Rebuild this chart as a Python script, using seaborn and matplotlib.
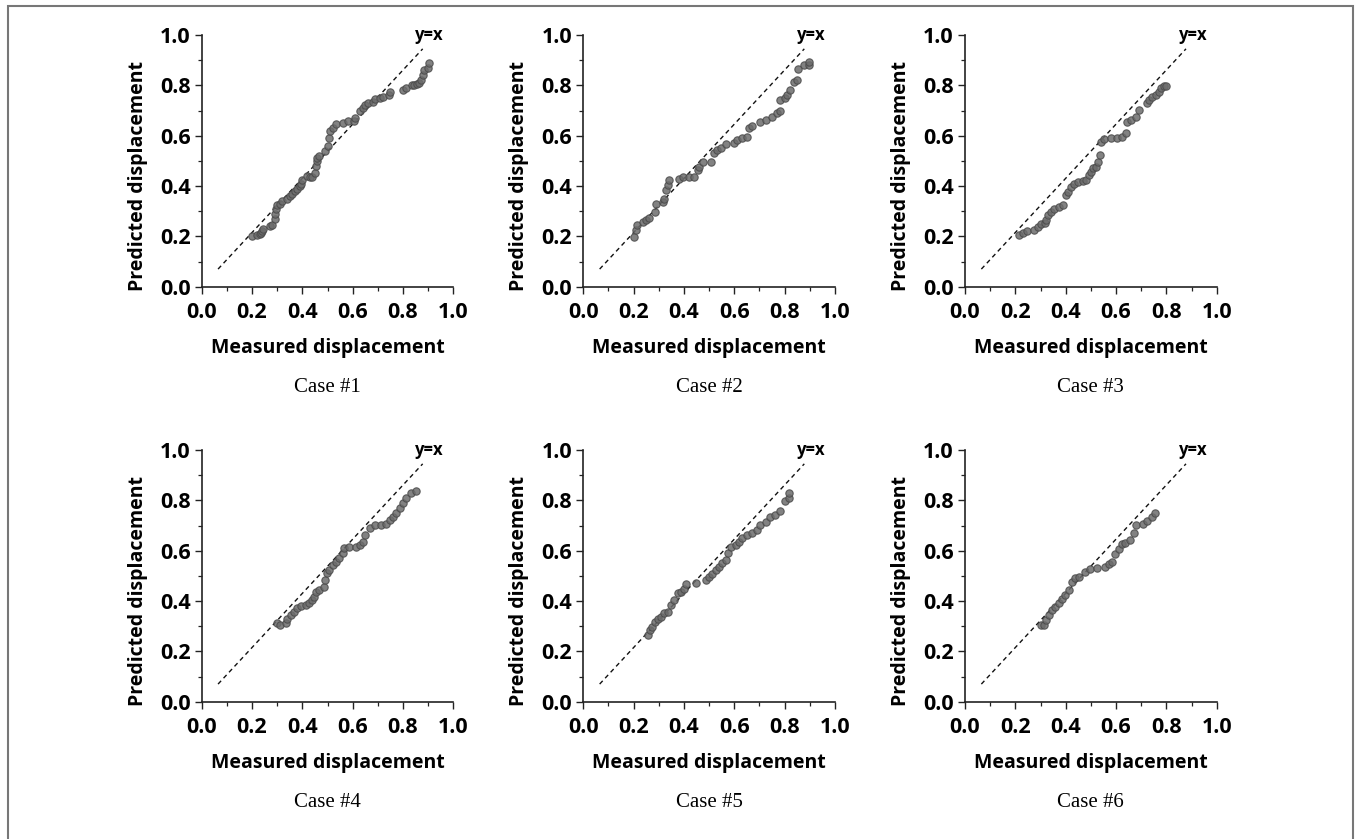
import numpy as np
import pandas as pd
import matplotlib
matplotlib.use("Agg")
import matplotlib.pyplot as plt
import seaborn as sns
from matplotlib.ticker import MultipleLocator
from matplotlib.patches import Rectangle

# ---------------- data ----------------
case_titles = ["Case #1", "Case #2", "Case #3", "Case #4", "Case #5", "Case #6"]
tick_values = [0.0, 0.2, 0.4, 0.6, 0.8, 1.0]
tick_labels = ["0.0", "0.2", "0.4", "0.6", "0.8", "1.0"]

# reference ("y=x") dashed line end points as drawn
ref_x = [0.065, 0.878]
ref_y = [0.070, 0.945]

case1_x = [0.20, 0.22, 0.23, 0.235, 0.24, 0.245, 0.27, 0.28, 0.29, 0.29, 0.295, 0.30,
           0.31, 0.32, 0.34, 0.35, 0.36, 0.37, 0.38, 0.39, 0.395, 0.40, 0.42, 0.43,
           0.44, 0.45, 0.455, 0.46, 0.46, 0.465, 0.49, 0.50, 0.505, 0.51, 0.52, 0.535,
           0.56, 0.58, 0.605, 0.61, 0.63, 0.64, 0.65, 0.66, 0.68, 0.69, 0.71, 0.72,
           0.745, 0.75, 0.80, 0.81, 0.835, 0.845, 0.855, 0.865, 0.87, 0.88, 0.885, 0.90, 0.905]
case1_y = [0.20, 0.205, 0.21, 0.215, 0.22, 0.23, 0.24, 0.245, 0.27, 0.29, 0.31, 0.325,
           0.33, 0.34, 0.35, 0.36, 0.37, 0.38, 0.39, 0.40, 0.41, 0.425, 0.44, 0.435,
           0.435, 0.45, 0.48, 0.50, 0.51, 0.52, 0.54, 0.56, 0.59, 0.62, 0.63, 0.645,
           0.65, 0.66, 0.66, 0.67, 0.70, 0.71, 0.72, 0.73, 0.735, 0.745, 0.75, 0.755,
           0.76, 0.775, 0.78, 0.79, 0.80, 0.80, 0.805, 0.81, 0.82, 0.84, 0.86, 0.87, 0.89]

case2_x = [0.20, 0.208, 0.213, 0.237, 0.25, 0.263, 0.283, 0.287, 0.316, 0.322, 0.329,
           0.336, 0.342, 0.38, 0.395, 0.42, 0.44, 0.454, 0.46, 0.474, 0.507, 0.52,
           0.533, 0.546, 0.566, 0.60, 0.612, 0.632, 0.651, 0.658, 0.671, 0.704, 0.724,
           0.75, 0.77, 0.783, 0.783, 0.80, 0.809, 0.822, 0.836, 0.849, 0.853, 0.875,
           0.895, 0.897]
case2_y = [0.199, 0.225, 0.245, 0.258, 0.265, 0.272, 0.298, 0.33, 0.338, 0.35, 0.384,
           0.404, 0.424, 0.426, 0.437, 0.437, 0.437, 0.464, 0.477, 0.497, 0.497, 0.53,
           0.543, 0.55, 0.567, 0.57, 0.583, 0.589, 0.596, 0.629, 0.638, 0.656, 0.662,
           0.675, 0.689, 0.699, 0.742, 0.748, 0.762, 0.781, 0.815, 0.821, 0.864, 0.881,
           0.881, 0.894]

case3_x = [0.214, 0.23, 0.246, 0.276, 0.29, 0.303, 0.316, 0.322, 0.329, 0.342, 0.355,
           0.375, 0.391, 0.401, 0.408, 0.421, 0.434, 0.447, 0.467, 0.48, 0.493, 0.50,
           0.507, 0.52, 0.53, 0.536, 0.542, 0.553, 0.579, 0.605, 0.625, 0.638, 0.645,
           0.658, 0.678, 0.691, 0.724, 0.73, 0.743, 0.759, 0.77, 0.78, 0.789, 0.80]
case3_y = [0.205, 0.215, 0.223, 0.225, 0.238, 0.249, 0.252, 0.265, 0.285, 0.298, 0.309,
           0.318, 0.325, 0.364, 0.377, 0.397, 0.41, 0.417, 0.421, 0.424, 0.444, 0.457,
           0.47, 0.477, 0.497, 0.523, 0.576, 0.585, 0.589, 0.589, 0.596, 0.609, 0.656,
           0.662, 0.675, 0.702, 0.728, 0.742, 0.752, 0.762, 0.775, 0.788, 0.797, 0.799]

case4_x = [0.30, 0.313, 0.333, 0.34, 0.353, 0.367, 0.38, 0.393, 0.413, 0.427, 0.44,
           0.447, 0.453, 0.467, 0.487, 0.489, 0.496, 0.507, 0.52, 0.533, 0.547, 0.56,
           0.567, 0.587, 0.613, 0.627, 0.64, 0.647, 0.667, 0.687, 0.713, 0.733, 0.747,
           0.76, 0.773, 0.787, 0.80, 0.813, 0.833, 0.853]
case4_y = [0.311, 0.305, 0.311, 0.327, 0.344, 0.358, 0.371, 0.38, 0.384, 0.391, 0.404,
           0.417, 0.437, 0.444, 0.457, 0.483, 0.51, 0.523, 0.543, 0.556, 0.57, 0.589,
           0.609, 0.616, 0.616, 0.623, 0.636, 0.662, 0.689, 0.702, 0.702, 0.705, 0.722,
           0.732, 0.748, 0.768, 0.788, 0.808, 0.828, 0.837]

case5_x = [0.257, 0.266, 0.274, 0.283, 0.296, 0.309, 0.322, 0.336, 0.349, 0.362, 0.375,
           0.388, 0.401, 0.408, 0.447, 0.487, 0.50, 0.513, 0.526, 0.539, 0.553, 0.566,
           0.576, 0.586, 0.605, 0.618, 0.632, 0.651, 0.671, 0.691, 0.704, 0.724, 0.743,
           0.763, 0.783, 0.803, 0.816, 0.818]
case5_y = [0.265, 0.285, 0.298, 0.318, 0.327, 0.338, 0.354, 0.358, 0.384, 0.404, 0.43,
           0.437, 0.446, 0.468, 0.47, 0.483, 0.497, 0.507, 0.523, 0.537, 0.55, 0.563,
           0.589, 0.616, 0.623, 0.636, 0.649, 0.662, 0.672, 0.682, 0.702, 0.715, 0.733,
           0.742, 0.759, 0.799, 0.808, 0.83]

case6_x = [0.30, 0.313, 0.32, 0.333, 0.346, 0.359, 0.373, 0.386, 0.399, 0.412, 0.425,
           0.438, 0.451, 0.478, 0.498, 0.524, 0.557, 0.571, 0.584, 0.597, 0.61, 0.623,
           0.637, 0.656, 0.67, 0.679, 0.709, 0.722, 0.742, 0.753]
case6_y = [0.305, 0.305, 0.325, 0.344, 0.364, 0.375, 0.391, 0.407, 0.424, 0.444, 0.477,
           0.49, 0.497, 0.517, 0.526, 0.53, 0.534, 0.547, 0.554, 0.587, 0.607, 0.626,
           0.632, 0.642, 0.669, 0.702, 0.706, 0.719, 0.733, 0.748]

all_x = [case1_x, case2_x, case3_x, case4_x, case5_x, case6_x]
all_y = [case1_y, case2_y, case3_y, case4_y, case5_y, case6_y]

# ---------------- styling ----------------
sns.set_style("ticks")
plt.rcParams["font.family"] = ["Open Sans", "DejaVu Sans"]
plt.rcParams["axes.edgecolor"] = "#222222"
plt.rcParams["xtick.color"] = "#222222"
plt.rcParams["ytick.color"] = "#222222"
plt.rcParams["text.color"] = "black"
plt.rcParams["axes.labelcolor"] = "black"
plt.rcParams["xtick.labelcolor"] = "black"
plt.rcParams["ytick.labelcolor"] = "black"

W, H = 1356, 839
fig = plt.figure(figsize=(W / 100, H / 100), dpi=100)
fig.patch.set_facecolor("white")

# frame around the figure
fig.add_artist(Rectangle((8 / W, -0.05), (1353 - 8) / W, 1.05 - 6 / H,
                         transform=fig.transFigure, fill=False,
                         edgecolor="#777777", linewidth=1.5))

lefts = [201.7, 583.3, 965.0]
tops = [35.0, 450.0]
size = 251.7

for i in range(6):
    r, c = divmod(i, 3)
    left = lefts[c] / W
    bottom = 1 - (tops[r] + size) / H
    ax = fig.add_axes([left, bottom, size / W, size / H])

    df = pd.DataFrame({"Measured": all_x[i], "Predicted": all_y[i]})
    ref = pd.DataFrame({"x": ref_x, "y": ref_y})
    sns.lineplot(data=ref, x="x", y="y", ax=ax, color="#111111",
                 linewidth=1.0, linestyle=(0, (3.2, 2.6)))
    sns.scatterplot(data=df, x="Measured", y="Predicted", ax=ax, s=28,
                    color="#6c6c6c", edgecolor="#4a4a4a", linewidth=0.8,
                    alpha=0.85, zorder=3)

    ax.set_xlim(0, 1.0)
    ax.set_ylim(0, 1.0)
    ax.set_xticks(tick_values)
    ax.set_yticks(tick_values)
    ax.set_xticklabels(tick_labels)
    ax.set_yticklabels(tick_labels)
    ax.xaxis.set_minor_locator(MultipleLocator(0.1))
    ax.yaxis.set_minor_locator(MultipleLocator(0.1))
    ax.tick_params(which="major", direction="out", length=5, width=1.0,
                   labelsize=15.5)
    ax.tick_params(axis="x", which="major", pad=6)
    ax.tick_params(axis="y", which="major", pad=3)
    ax.tick_params(which="minor", direction="out", length=3, width=0.9)
    for lab in ax.get_xticklabels() + ax.get_yticklabels():
        lab.set_fontweight("bold")
    sns.despine(ax=ax)
    for sp in ("left", "bottom"):
        ax.spines[sp].set_linewidth(1.2)

    ax.set_xlabel("Measured displacement", fontsize=14, fontweight="bold")
    ax.set_ylabel("Predicted displacement", fontsize=14, fontweight="bold")
    ax.xaxis.set_label_coords(0.5, -0.205)
    ax.yaxis.set_label_coords(-0.215, 0.44)

    ax.text(0.905, 1.0, "y=x", transform=ax.transAxes, ha="center",
            va="center", fontsize=12, fontweight="bold")
    ax.text(0.5, -0.40, case_titles[i], transform=ax.transAxes, ha="center",
            va="center", fontsize=15, family=["Liberation Serif", "DejaVu Serif"])

fig.savefig("out.png", dpi=100, facecolor="white")
